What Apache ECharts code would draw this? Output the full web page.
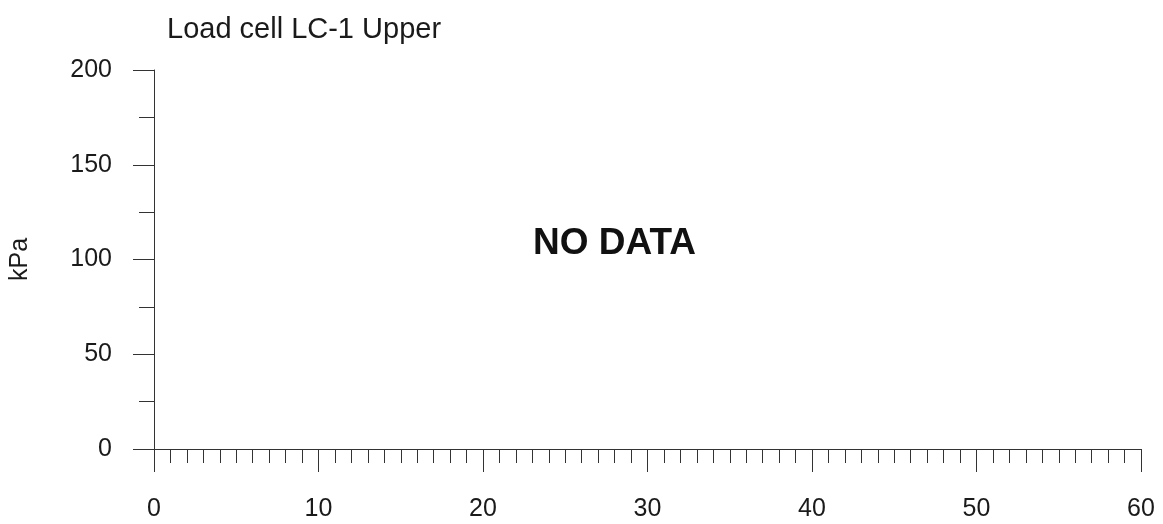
<!DOCTYPE html>
<html>
<head>
<meta charset="utf-8">
<script src="https://cdn.jsdelivr.net/npm/echarts@6/dist/echarts.min.js"></script>
<style>
html,body{margin:0;padding:0;background:#fff;}
#chart{width:1163px;height:524px;}
</style>
</head>
<body>
<div id="chart"></div>
<script>
// Data (the reference shows no data)
var chartTitle = 'Load cell LC-1 Upper';
var yAxisName = 'kPa';
var noDataText = 'NO DATA';
var xValues = [];
var yValues = [];
var xMin = 0, xMax = 60, xStep = 10;
var yMin = 0, yMax = 200, yStep = 50;

var seriesData = xValues.map(function (x, i) { return [x, yValues[i]]; });

var chart = echarts.init(document.getElementById('chart'), null, {renderer: 'canvas'});
var font = 'Liberation Sans, Arial, sans-serif';
var ink = '#1a1a1a';
chart.setOption({
  backgroundColor: '#ffffff',
  animation: false,
  title: {
    text: chartTitle,
    left: 162,
    top: 10,
    textStyle: {fontFamily: font, fontSize: 29, fontWeight: 'normal', color: ink}
  },
  grid: {left: 154, right: 22, top: 70, bottom: 75, containLabel: false, outerBoundsMode: 'none'},
  xAxis: {
    type: 'value',
    min: xMin, max: xMax, interval: xStep,
    axisLine: {show: true, lineStyle: {color: '#333', width: 1}},
    axisTick: {show: true, inside: false, length: 23, lineStyle: {color: '#333'}},
    minorTick: {show: true, splitNumber: 10, length: 14, lineStyle: {color: '#333'}},
    splitLine: {show: false},
    axisLabel: {fontFamily: font, fontSize: 25, color: ink, margin: 48}
  },
  yAxis: {
    type: 'value',
    min: yMin, max: yMax, interval: yStep,
    name: yAxisName,
    nameLocation: 'middle',
    nameGap: 121,
    nameTextStyle: {fontFamily: font, fontSize: 25, color: ink},
    axisLine: {show: true, lineStyle: {color: '#333', width: 1}},
    axisTick: {show: true, inside: false, length: 21, lineStyle: {color: '#333'}},
    minorTick: {show: true, splitNumber: 2, length: 15, lineStyle: {color: '#333'}},
    splitLine: {show: false},
    axisLabel: {fontFamily: font, fontSize: 25, color: ink, margin: 42}
  },
  graphic: [{
    type: 'text',
    left: 533,
    top: 225,
    style: {text: noDataText, font: 'bold 37px Liberation Sans, Arial, sans-serif', fill: '#111'}
  }],
  series: [{type: 'line', data: seriesData, showSymbol: false}]
});
</script>
</body>
</html>
